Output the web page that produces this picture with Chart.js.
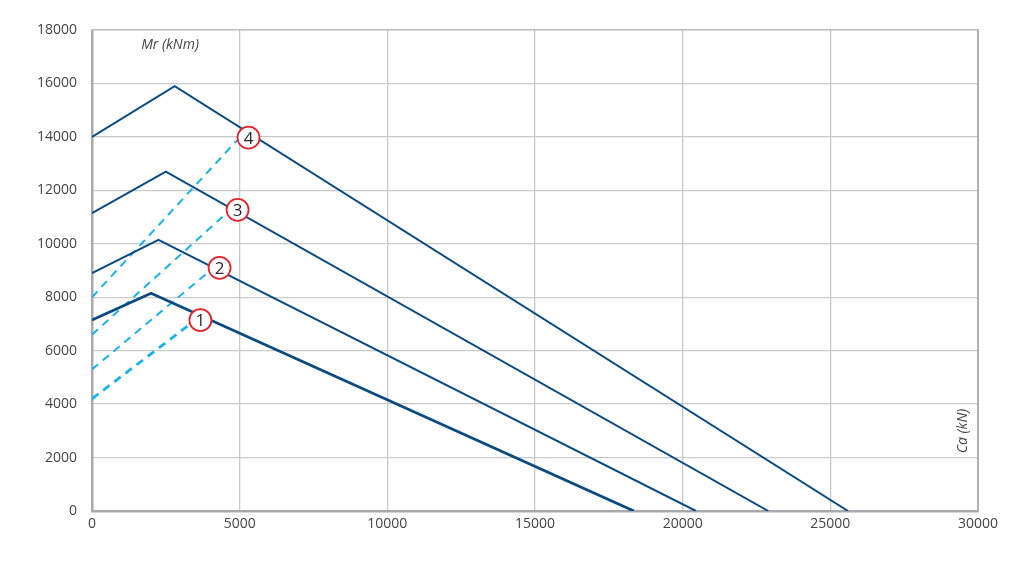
<!DOCTYPE html>
<html>
<head>
<meta charset="utf-8">
<script src="https://cdn.jsdelivr.net/npm/chart.js@4"></script>
<style>
  html, body { margin: 0; padding: 0; background: #fff; }
  #wrap { width: 1023px; height: 562px; }
</style>
</head>
<body>
<div id="wrap"><canvas id="mrChart" width="1023" height="562"></canvas></div>
<script>
// tick values
let xTicks = [0, 5000, 10000, 15000, 20000, 25000, 30000];
let yTicks = [0, 2000, 4000, 6000, 8000, 10000, 12000, 14000, 16000, 18000];

// solid curves (Ca, Mr) for sizes 1..4
let curveNames = ["1", "2", "3", "4"];
let curveX = [
  [0, 2000, 18350],
  [0, 2250, 20450],
  [0, 2500, 22900],
  [0, 2800, 25600]
];
let curveY = [
  [7150, 8150, 0],
  [8900, 10150, 0],
  [11150, 12700, 0],
  [14000, 15900, 0]
];

// dashed lines
let dashX = [
  [0, 3270],
  [0, 3950],
  [0, 4540],
  [0, 4910]
];
let dashY = [
  [4200, 6950],
  [5300, 8950],
  [6600, 11130],
  [8000, 13870]
];

// numbered markers
let markerX = [3670, 4320, 4930, 5300];
let markerY = [7140, 9100, 11270, 13970];

let darkBlue = "#0b4a80";
let lightBlue = "#1ab2ea";
let markRed = "#e3232c";
let txtColor = "#444";
let fontFam = "'Open Sans', 'DejaVu Sans', sans-serif";

function toPoints(xs, ys) {
  let pts = [];
  for (let i = 0; i < xs.length; i++) {
    pts.push({ x: xs[i], y: ys[i] });
  }
  return pts;
}

let datasets = [];

// markers first so they are drawn on top
let markerPts = toPoints(markerX, markerY);
datasets.push({
  label: "markers",
  data: markerPts,
  showLine: false,
  pointStyle: "circle",
  pointRadius: 11,
  pointBackgroundColor: "#fff",
  pointBorderColor: markRed,
  pointBorderWidth: 1.8,
  order: 0
});

for (let i = 0; i < curveNames.length; i++) {
  datasets.push({
    label: "dash " + curveNames[i],
    data: toPoints(dashX[i], dashY[i]),
    showLine: true,
    borderColor: lightBlue,
    borderWidth: i == 0 ? 2.8 : 2,
    borderDash: [8, 6],
    pointRadius: 0,
    order: 2
  });
  datasets.push({
    label: "curve " + curveNames[i],
    data: toPoints(curveX[i], curveY[i]),
    showLine: true,
    borderColor: darkBlue,
    borderWidth: i == 0 ? 2.8 : 2,
    pointRadius: 0,
    order: 1
  });
}

const labelPlugin = {
  id: "labelPlugin",
  afterDatasetsDraw(chart) {
    let ctx = chart.ctx;
    let xs = chart.scales.x;
    let ys = chart.scales.y;
    let area = chart.chartArea;
    ctx.save();
    // numbers inside the circles
    ctx.fillStyle = "#2a2a2a";
    ctx.font = "17px " + fontFam;
    ctx.textAlign = "center";
    ctx.textBaseline = "middle";
    for (let i = 0; i < markerX.length; i++) {
      ctx.fillText(curveNames[i], xs.getPixelForValue(markerX[i]), ys.getPixelForValue(markerY[i]) + 1);
    }
    // axis titles
    ctx.fillStyle = txtColor;
    ctx.font = "italic 14px " + fontFam;
    ctx.fillText("Mr (kNm)", area.left + 78, area.top + 15);
    ctx.translate(area.right - 15, area.bottom - 80);
    ctx.rotate(-Math.PI / 2);
    ctx.fillText("Ca (kN)", 0, 0);
    ctx.restore();
  }
};

let mrChart = new Chart("mrChart", {
  type: "scatter",
  data: { datasets: datasets },
  plugins: [labelPlugin],
  options: {
    responsive: false,
    animation: false,
    layout: { padding: { top: 30, right: 45, left: 0, bottom: 0 } },
    plugins: {
      legend: { display: false },
      tooltip: { enabled: false }
    },
    scales: {
      x: {
        type: "linear",
        min: 0,
        max: 30000,
        afterBuildTicks: function (scale) {
          scale.ticks = xTicks.map(function (v) { return { value: v }; });
        },
        afterFit: function (scale) { scale.height = 51; },
        grid: { color: "#c9c9c9", lineWidth: 1.3, drawTicks: false },
        border: { color: "#a9a9ad", width: 2.5 },
        ticks: {
          padding: 5,
          color: txtColor,
          font: { family: fontFam, size: 14 },
          maxRotation: 0,
          callback: function (v) { return v; }
        }
      },
      y: {
        type: "linear",
        min: 0,
        max: 18000,
        afterBuildTicks: function (scale) {
          scale.ticks = yTicks.map(function (v) { return { value: v }; });
        },
        afterFit: function (scale) { scale.width = 92; },
        grid: { color: "#c9c9c9", lineWidth: 1.3, drawTicks: false },
        border: { color: "#a9a9ad", width: 2.5 },
        ticks: {
          padding: 15,
          color: txtColor,
          font: { family: fontFam, size: 14 },
          callback: function (v) { return v; }
        }
      },
      x2: {
        type: "linear",
        position: "top",
        display: true,
        min: 0,
        max: 30000,
        afterFit: function (scale) { scale.height = 0; },
        grid: { display: false, drawTicks: false },
        border: { color: "#c0c0c0", width: 1.5 },
        ticks: { display: false }
      },
      y2: {
        type: "linear",
        position: "right",
        display: true,
        min: 0,
        max: 18000,
        afterFit: function (scale) { scale.width = 0; },
        grid: { display: false, drawTicks: false },
        border: { color: "#b0b0b0", width: 2 },
        ticks: { display: false }
      }
    }
  }
});
</script>
</body>
</html>
